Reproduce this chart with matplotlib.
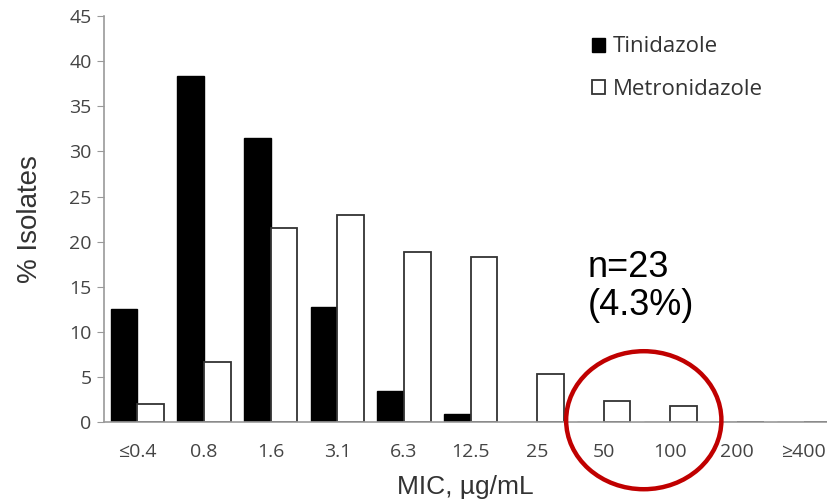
import numpy as np
import matplotlib.pyplot as plt
from matplotlib.patches import Ellipse

# MIC categories and % isolates for each drug
mic_labels = ['≤0.4', '0.8', '1.6', '3.1', '6.3', '12.5', '25', '50', '100', '200', '≥400']
tinidazole = [12.5, 38.4, 31.5, 12.7, 3.4, 0.9, 0, 0, 0, 0, 0]
metronidazole = [2.0, 6.7, 21.5, 23.0, 18.8, 18.3, 5.3, 2.3, 1.8, 0, 0]

plt.rcParams['font.family'] = ['Open Sans', 'DejaVu Sans']

fig = plt.figure(figsize=(8.27, 5.03), dpi=100)
ax = fig.add_axes([0.1258, 0.161, 0.8742, 0.807])

x = np.arange(len(mic_labels))
w = 0.4
ax.bar(x - w / 2, tinidazole, w, color='black', edgecolor='black', linewidth=1, label='Tinidazole')
ax.bar(x + w / 2, metronidazole, w, color='white', edgecolor='#333333', linewidth=1.3, label='Metronidazole')

ax.set_xlim(-0.5, 10.35)
ax.set_ylim(0, 45)
ax.set_yticks(range(0, 46, 5))
ax.set_xticks(x)
ax.set_xticklabels(mic_labels)

for s in ['top', 'right']:
    ax.spines[s].set_visible(False)
for s in ['left', 'bottom']:
    ax.spines[s].set_color('#999999')
    ax.spines[s].set_linewidth(1.2)
    ax.spines[s].set_zorder(3)

ax.tick_params(axis='y', length=5, color='#999999', labelsize=14, labelcolor='#444444', pad=4)
ax.tick_params(axis='x', length=0, labelsize=14, labelcolor='#444444', pad=15)

ax.set_ylabel('% Isolates', fontsize=20, family='Liberation Sans', color='#333333', labelpad=19)
ax.set_xlabel('MIC, µg/mL', fontsize=19, family='Liberation Sans', color='#333333', labelpad=10)

ax.legend(loc='upper left', bbox_to_anchor=(0.675, 0.95), frameon=False, fontsize=16,
          borderpad=0, borderaxespad=0,
          handlelength=0.6, handleheight=0.6, handletextpad=0.35, labelspacing=0.95,
          labelcolor='#333333')

# annotation for the high-MIC metronidazole isolates
ax.text(0.669, 0.245, 'n=23\n(4.3%)', transform=ax.transAxes, fontsize=26,
        family='Liberation Sans', color='black', va='bottom', ha='left', linespacing=1.1)
ell = Ellipse((7.6, 0.2), width=2.33, height=15.3, fill=False, edgecolor='#C00000',
              linewidth=3.2, clip_on=False, zorder=5)
ax.add_patch(ell)

plt.savefig('out.png', dpi=100)
plt.close()
